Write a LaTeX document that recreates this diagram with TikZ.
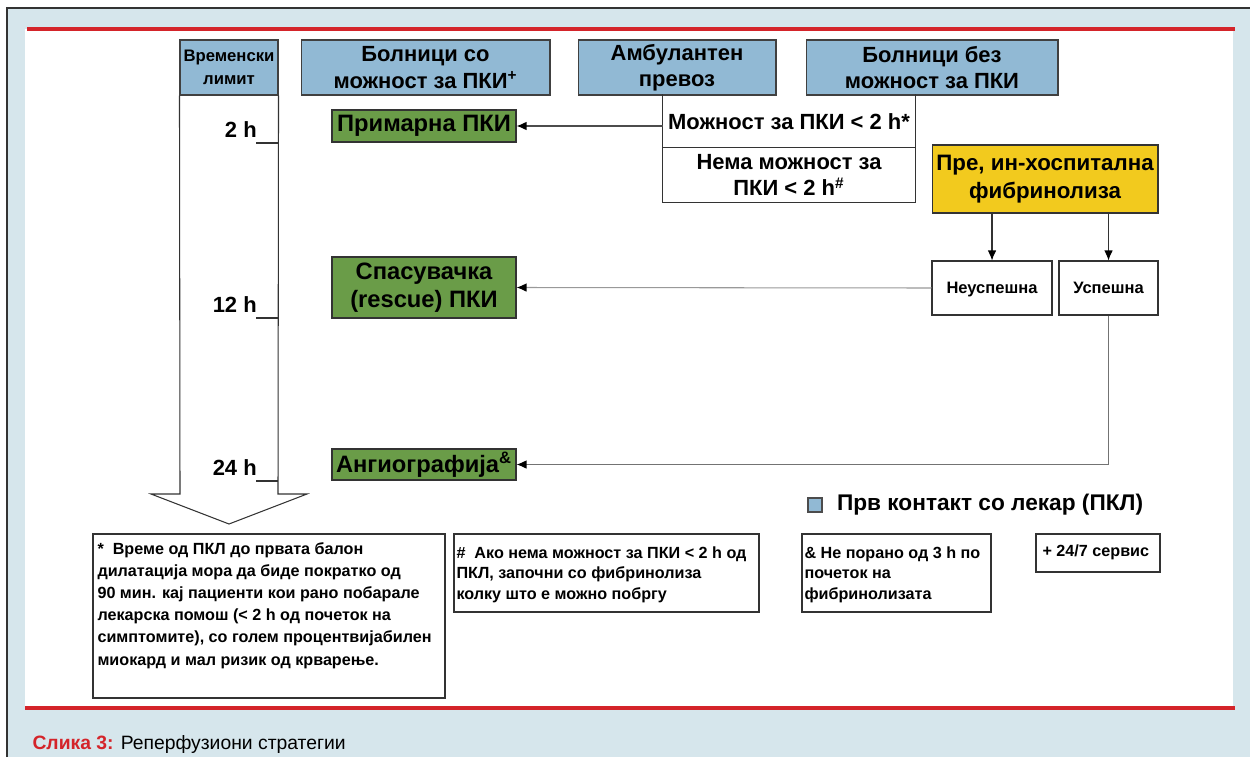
\documentclass[tikz,border=0pt]{standalone}
\usepackage{fontspec}
\setmainfont{Liberation Sans}
\usetikzlibrary{arrows.meta,positioning}
\tikzset{>={Latex[length=2mm,width=1.7mm,color=black]}}

\definecolor{bgblue}{RGB}{214,230,236}
\definecolor{hdrblue}{RGB}{145,185,212}
\definecolor{pkigreen}{RGB}{106,156,72}
\definecolor{fibyellow}{RGB}{242,202,30}
\definecolor{framered}{RGB}{212,36,42}

\tikzset{
  header/.style={draw=black!75, fill=hdrblue, font=\bfseries\fontsize{12.5}{15}\selectfont,
    align=center, inner sep=0pt, minimum height=1.1cm},
  pkibox/.style={draw=black!80, fill=pkigreen, font=\bfseries\fontsize{13.5}{16}\selectfont,
    align=center, inner sep=0pt, minimum width=3.68cm},
  optbox/.style={font=\bfseries\fontsize{12.5}{15}\selectfont, align=center, inner sep=0pt,
    minimum width=5.04cm},
  resbox/.style={draw=black!80, fill=white, font=\bfseries\fontsize{9.4}{11}\selectfont,
    inner sep=0pt, text height=1.5ex, text depth=0.3ex, minimum height=1.08cm},
  noteframe/.style={draw=black!80, fill=white},
  notetext/.style={anchor=north west, inner sep=0pt, align=left,
    font=\bfseries\fontsize{9.2}{11.6}\selectfont},
  hourlbl/.style={anchor=south east, inner sep=1pt, font=\bfseries\fontsize{12.5}{15}\selectfont},
}

\begin{document}
\begin{tikzpicture}[x=0.02cm, y=-0.02cm, line width=0.6pt]
    \useasboundingbox (0,0) rectangle (1250,757);

    % frame
    \fill[white] (0,0) rectangle (1250,757);
    \fill[bgblue] (7,8) rectangle (1250,757);
    \draw[black!80, line width=0.8pt] (7,757) -- (7,8) -- (1250,8);
    \fill[white] (25,29) rectangle (1233,708);
    \draw[framered, line width=2.2pt] (27,29) -- (1235,29);
    \draw[framered, line width=2.2pt] (25,708) -- (1235,708);

    % time axis
    \node[header, minimum width=1.96cm, font=\bfseries\fontsize{9.5}{13}\selectfont] (time) at (229,67.5) {Временски\\лимит};
    \draw[black!80] (time.south west) -- (180,494) -- (151,494) -- (229,524)
        -- (307,494) -- (278,494) -- (time.south east);
    \foreach \yy/\hh in {143/2, 318/12, 481/24} {
        \draw[black!80] (256,\yy) -- (278,\yy);
        \node[hourlbl] (h\hh) at (259,\yy-3) {\hh~h};
    }

    % headers
    \node[header, minimum width=4.98cm] (hospa) at (425.5,67.5) {Болници со\\можност за ПКИ\textsuperscript{+}};
    \node[header, minimum width=3.96cm] (amb) at (677,67.5) {Амбулантен\\превоз};
    \node[header, minimum width=5.04cm] (hospb) at (932,67.5) {Болници без\\можност за ПКИ};

    % PCI options
    \node[pkibox, minimum height=0.64cm] (prim) at (424,126) {Примарна ПКИ};
    \node[pkibox, minimum height=1.22cm] (rescue) at (424,287.5) {Спасувачка\\(rescue) ПКИ};
    \node[pkibox, minimum height=0.62cm] (angio) at (424,464.5) {Ангиографија\textsuperscript{\&}};

    \node[optbox, minimum height=1.06cm] (yes) at (789,121.5) {Можност за ПКИ < 2 h*};
    \node[optbox, minimum height=1.08cm] (no) at (789,175) {Нема можност за\\ПКИ < 2 h\textsuperscript{\#}};
    \draw[black!80] (yes.north west) |- (no.south east) -- (yes.north east);
    \draw[black!80] (no.north west) -- (no.north east);

    % fibrinolysis
    \node[draw=black!80, fill=fibyellow, font=\bfseries\fontsize{12.7}{16}\selectfont, align=center,
        inner sep=0pt, minimum width=4.52cm, minimum height=1.36cm] (fib) at (1045,179) {Пре, ин-хоспитална\\фибринолиза};
    \node[resbox, minimum width=2.4cm] (fail) at (992,288) {Неуспешна};
    \node[resbox, minimum width=1.98cm] (succ) at (1108.5,288) {Успешна};

    \draw[->, black!80] (fib.south -| fail.north) -- (fail.north);
    \draw[->, black!80] (fib.south -| succ.north) -- (succ.north);
    \draw[->, black!70] (yes.west |- prim.east) -- (prim.east);
    \draw[->, black!40] (fail.west) -- (rescue.east);
    \draw[->, black!55] (succ.south) |- (angio.east);

    % legend
    \node[draw=black!70, fill=hdrblue, minimum size=0.28cm, inner sep=0pt] (key) at (815,505) {};
    \node[right=0.28cm of key, inner sep=0pt, font=\bfseries\fontsize{12.9}{14}\selectfont] (keytxt) {Прв контакт со лекар (ПКЛ)};

    % notes
    \draw[noteframe] (93,534) rectangle (445,698);
    \node[notetext, font=\bfseries\fontsize{9.2}{12.6}\selectfont] (nstar) at (97,542) {*\ \ Време од ПКЛ до првата балон\\
        дилатација мора да биде пократко од\\
        90 мин. кај пациенти кои рано побарале\\
        лекарска помош (< 2 h од почеток на\\
        симптомите), со голем процентвијабилен\\
        миокард и мал ризик од крварење.};
    \draw[noteframe] (454,534) rectangle (759,612);
    \node[notetext] (nhash) at (456,546) {\#\ \ Ако нема можност за ПКИ < 2 h од\\
        ПКЛ, започни со фибринолиза\\
        колку што е можно побргу};
    \draw[noteframe] (802,534) rectangle (991,612);
    \node[notetext] (namp) at (804,546) {\& Не порано од 3 h по\\почеток на\\фибринолизата};
    \draw[noteframe] (1036,534) rectangle (1160,572);
    \node[notetext] (nplus) at (1042,544) {+ 24/7 сервис};

    % caption
    \node[anchor=base west, inner sep=0pt, font=\fontsize{11}{13}\selectfont] (caption) at (32,749)
        {\textcolor{framered}{\bfseries Слика 3:} Реперфузиони стратегии};
\end{tikzpicture}
\end{document}
